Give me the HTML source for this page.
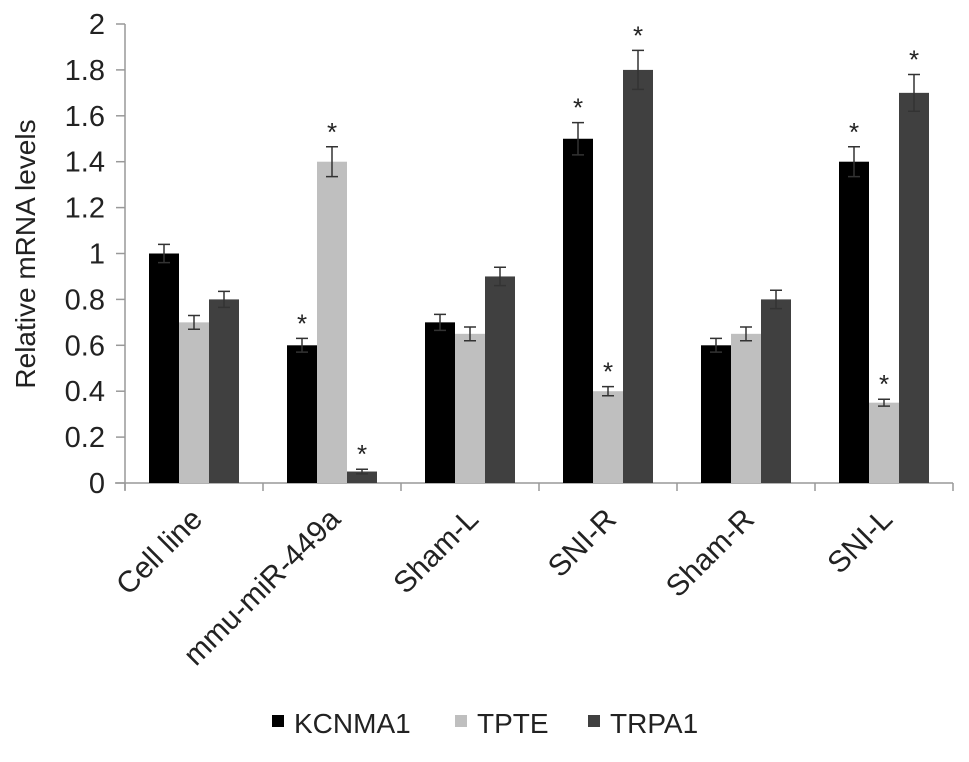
<!DOCTYPE html>
<html><head><meta charset="utf-8"><style>
body{margin:0;background:#fff;}
svg text{font-family:"Liberation Sans",Arial,sans-serif;fill:#222;}
</style></head><body>
<svg width="969" height="757" id="chart"></svg>
<script>
const categories=["Cell line","mmu-miR-449a","Sham-L","SNI-R","Sham-R","SNI-L"];
const seriesNames=["KCNMA1","TPTE","TRPA1"];
const kcnma1=[1.0,0.6,0.7,1.5,0.6,1.4];
const tpte=[0.7,1.4,0.65,0.4,0.65,0.35];
const trpa1=[0.8,0.05,0.9,1.8,0.8,1.7];
const kcnma1Err=[0.04,0.03,0.035,0.07,0.03,0.065];
const tpteErr=[0.03,0.065,0.03,0.02,0.03,0.015];
const trpa1Err=[0.035,0.01,0.04,0.085,0.04,0.08];
const kcnma1Sig=[false,true,false,true,false,true];
const tpteSig=[false,true,false,true,false,true];
const trpa1Sig=[false,true,false,true,false,true];
const yTicks=["0","0.2","0.4","0.6","0.8","1","1.2","1.4","1.6","1.8","2"];

const NS="http://www.w3.org/2000/svg";
const svg=document.getElementById('chart');
const x0=125,band=138,y0=483,yTop=24,yMax=2;
const y=v=>y0-(v/yMax)*(y0-yTop);
const xc=i=>x0+band*(i+0.5);
function mk(t,a){const e=document.createElementNS(NS,t);for(const k in a)e.setAttribute(k,a[k]);svg.appendChild(e);return e;}
const colors=["#000000","#bfbfbf","#404040"];
const vals=[kcnma1,tpte,trpa1],errs=[kcnma1Err,tpteErr,trpa1Err],sigs=[kcnma1Sig,tpteSig,trpa1Sig];
const bw=30;
let e=mk('line',{x1:x0,y1:yTop,x2:x0,y2:y0+7,stroke:'#999','stroke-width':1.5});


e=mk('line',{x1:x0-10,y1:y0,x2:x0+band*6,y2:y0,stroke:'#999','stroke-width':1.5});


yTicks.forEach((t,i)=>{
  const v=parseFloat(t),yy=y(v);
  let l=mk('line',{x1:x0-9,y1:yy,x2:x0,y2:yy,stroke:'#999','stroke-width':1.5});
  
  
  let tx=mk('text',{x:x0-20,y:yy+10,'text-anchor':'end','font-size':29});
  tx.textContent=t;
  
  
});
for(let i=0;i<=6;i++){
  let l=mk('line',{x1:x0+band*i,y1:y0,x2:x0+band*i,y2:y0+8,stroke:'#999','stroke-width':1.5});
  
  
}
let yt=mk('text',{x:0,y:0,'text-anchor':'middle','font-size':28,transform:'translate(35,254) rotate(-90)'});
yt.textContent="Relative mRNA levels";


categories.forEach((c,i)=>{
  const cx=xc(i);
  let t=mk('text',{x:0,y:0,'text-anchor':'end','font-size':30,transform:`translate(${cx+10},${y0+38}) rotate(-45)`});
  t.textContent=c;
  
  
  for(let s=0;s<3;s++){
    const v=vals[s][i],er=errs[s][i];
    const bx=cx-45+s*bw;
    let r=mk('rect',{x:bx,y:y(v),width:bw,height:y0-y(v),fill:colors[s]});
    
    
    const mx=bx+bw/2;
    let eb=mk('path',{d:`M${mx-6},${y(v+er)}H${mx+6}M${mx},${y(v+er)}V${y(v-er)}M${mx-6},${y(v-er)}H${mx+6}`,stroke:'#333','stroke-width':1.5,fill:'none'});
    
    
    if(sigs[s][i]){
      let st=mk('text',{x:mx,y:y(v+er)-6,'text-anchor':'middle','font-size':26});
      st.textContent="*";
      
      
    }
  }
});
const legX=[272,455,588];
seriesNames.forEach((n,s)=>{
  let r=mk('rect',{x:legX[s],y:715,width:12,height:12,fill:colors[s]});
  
  
  let t=mk('text',{x:legX[s]+22,y:733,'font-size':28});
  t.textContent=n;
  
  
});
</script>
</body></html>
